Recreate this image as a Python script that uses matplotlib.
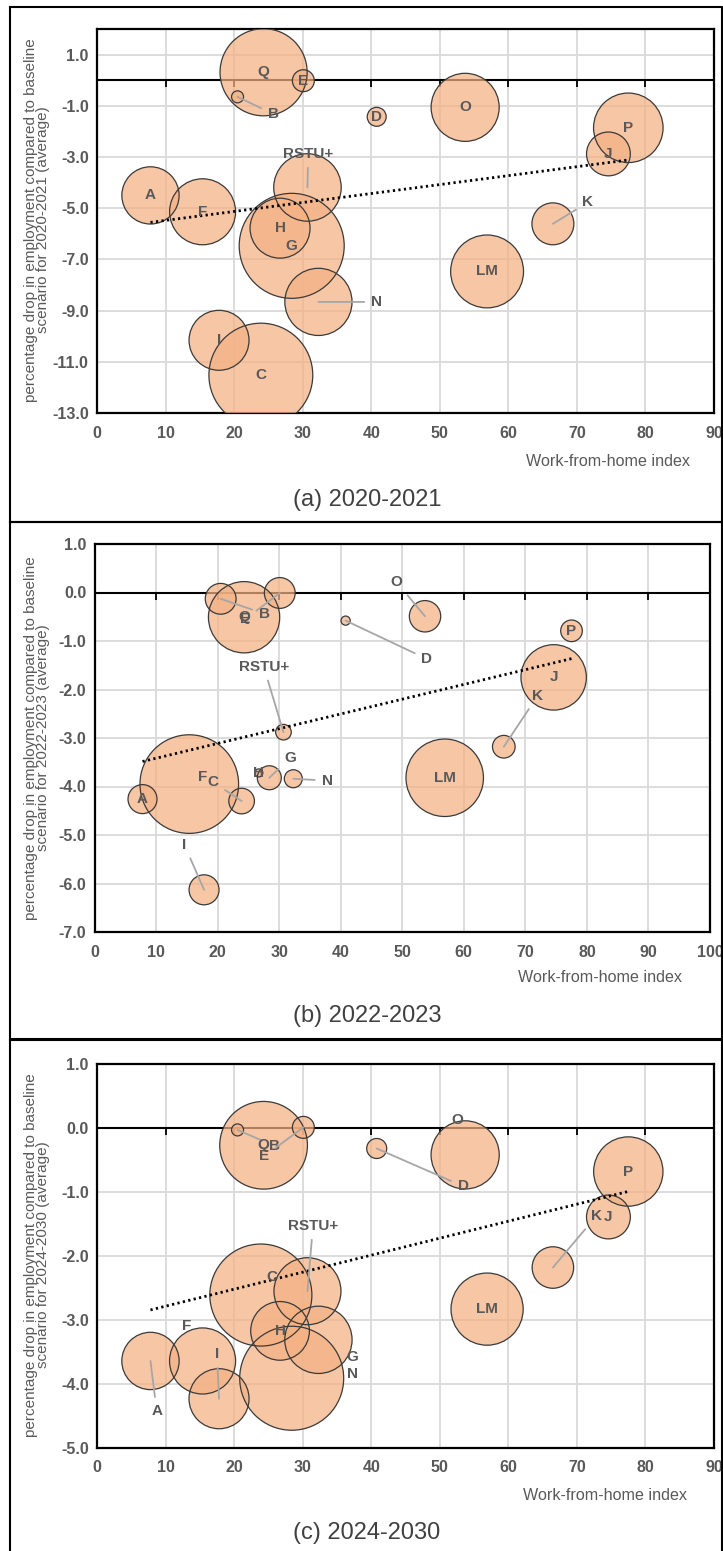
import numpy as np
import matplotlib
matplotlib.use("Agg")
import matplotlib.pyplot as plt
from matplotlib.ticker import FormatStrFormatter
from matplotlib.markers import TICKDOWN
from matplotlib.lines import Line2D

plt.rcParams['font.family'] = ['Liberation Sans', 'DejaVu Sans']
plt.rcParams['axes.unicode_minus'] = False

W, H = 723, 1551

sectors = ['A', 'B', 'C', 'D', 'E', 'F', 'G', 'H', 'I', 'J', 'K', 'LM', 'N', 'O', 'P', 'Q', 'RSTU+']
wfh_index = [7.8, 20.5, 23.9, 40.8, 30.1, 15.4, 28.4, 26.7, 17.8, 74.6, 66.5, 56.9, 32.3, 53.7, 77.5, 24.3, 30.7]

drop_2020_21 = [-4.50, -0.65, -11.52, -1.43, -0.02, -5.14, -6.47, -5.78, -10.16, -2.88, -5.61, -7.47, -8.66, -1.06, -1.86, 0.31, -4.19]
drop_2022_23 = [-4.26, -0.13, -4.30, -0.58, -0.01, -3.95, -3.82, -3.72, -6.13, -1.75, -3.18, -3.82, -3.84, -0.49, -0.79, -0.51, -2.88]
drop_2024_30 = [-3.64, -0.03, -2.61, -0.32, 0.01, -3.64, -3.91, -3.17, -4.23, -1.39, -2.18, -2.83, -3.31, -0.42, -0.68, -0.27, -2.55]

# bubble values (area)
size_2020_21 = [8.2, 0.36, 27.0, 0.9, 1.2, 10.9, 27.6, 9.0, 9.0, 4.8, 4.4, 13.3, 11.3, 11.6, 12.1, 19.0, 11.4]
size_2022_23 = [2.1, 2.37, 1.64, 0.21, 2.37, 24.3, 1.44, 0.16, 2.25, 10.7, 1.28, 15.0, 0.81, 2.46, 1.17, 12.7, 0.61]
size_2024_30 = [8.2, 0.36, 26.0, 1.0, 1.2, 10.9, 27.0, 8.6, 9.0, 4.8, 4.3, 13.0, 11.3, 11.6, 12.0, 19.2, 11.2]

periods = ['2020-2021', '2022-2023', '2024-2030']
captions = ['(a) 2020-2021', '(b) 2022-2023', '(c) 2024-2030']

# moved data labels: name -> (x, y, leader line)
labels_a = {'B': (25.7, -1.32, True), 'RSTU+': (30.8, -2.88, True),
            'K': (71.6, -4.77, True), 'N': (40.8, -8.66, True)}
labels_b = {'B': (27.6, -0.44, True), 'E': (24.5, -0.55, True), 'D': (54.0, -1.37, True),
            'O': (49.1, 0.21, True), 'K': (72.0, -2.13, True), 'RSTU+': (27.5, -1.53, True),
            'G': (31.8, -3.41, True), 'N': (37.8, -3.88, True), 'F': (17.6, -3.80, False),
            'C': (19.3, -3.91, True), 'I': (14.6, -5.2, True)}
labels_c = {'B': (25.9, -0.28, True), 'E': (24.4, -0.44, True), 'D': (53.4, -0.91, True),
            'O': (52.5, 0.12, False), 'K': (72.8, -1.38, True), 'C': (25.5, -2.33, False),
            'RSTU+': (31.5, -1.53, True), 'G': (37.3, -3.58, False), 'N': (37.3, -3.84, False),
            'F': (13.1, -3.09, False), 'I': (17.5, -3.53, True), 'A': (8.7, -4.42, True)}

panels = [
    dict(y=drop_2020_21, s=size_2020_21, lab=labels_a, xlim=(0, 90), ylim=(-13, 2),
         yt=np.arange(-13, 1.5, 2), box=(97, 29, 714, 413), rmax=52.5,
         frame=(7, 522), xl=(608, 462), cap=(367, 500), yl=220),
    dict(y=drop_2022_23, s=size_2022_23, lab=labels_b, xlim=(0, 100), ylim=(-7, 1),
         yt=np.arange(-7, 1.5, 1), box=(94.5, 544, 710, 932), rmax=49.3,
         frame=(522, 1039), xl=(600, 978), cap=(367, 1016), yl=738),
    dict(y=drop_2024_30, s=size_2024_30, lab=labels_c, xlim=(0, 90), ylim=(-5, 1),
         yt=np.arange(-5, 1.5, 1), box=(97, 1064, 714, 1448), rmax=52,
         frame=(1040, 1560), xl=(605, 1496), cap=(367, 1533), yl=1255),
]

gray_txt = '#595959'
fig = plt.figure(figsize=(W / 100, H / 100), dpi=100)

for i, p in enumerate(panels):
    x0, y0, x1, y1 = p['box']
    ax = fig.add_axes([x0 / W, 1 - y1 / H, (x1 - x0) / W, (y1 - y0) / H])
    ax.set_xlim(*p['xlim'])
    ax.set_ylim(*p['ylim'])
    ax.set_xticks(np.arange(p['xlim'][0], p['xlim'][1] + 1, 10))
    ax.set_yticks(p['yt'])
    ax.yaxis.set_major_formatter(FormatStrFormatter('%.1f'))
    ax.grid(True, color='#D9D9D9', lw=1.3, zorder=0)
    ax.set_axisbelow(True)
    ax.tick_params(length=0, labelsize=11.5, labelcolor=gray_txt, pad=9)
    ax.tick_params(axis='y', pad=6)
    for t in ax.get_xticklabels() + ax.get_yticklabels():
        t.set_fontweight('bold')
    for sp in ax.spines.values():
        sp.set_linewidth(1.6)
        sp.set_color('black')

    # horizontal axis through zero with downward tick marks
    ax.axhline(0, color='black', lw=1.5, zorder=2)
    xt = ax.get_xticks()
    ax.plot(xt, np.zeros(len(xt)), ls='none', marker=TICKDOWN, ms=5, mew=1.3,
            color='black', zorder=2, clip_on=False)

    xs = np.array(wfh_index)
    ys = np.array(p['y'])
    ss = np.array(p['s'])
    r_px = p['rmax'] * np.sqrt(ss / ss.max())
    msize = (2 * r_px * 0.72) ** 2
    order = np.argsort(-ss)
    ax.scatter(xs[order], ys[order], s=msize[order], facecolor='#F4B183', alpha=0.72,
               edgecolor='none', zorder=3)
    ax.scatter(xs[order], ys[order], s=msize[order], facecolor='none',
               edgecolor='#3A3A3A', lw=0.9, zorder=3)

    # linear trend
    k, b = np.polyfit(xs, ys, 1)
    tx = np.array([xs.min(), xs.max()])
    ax.plot(tx, k * tx + b, color='black', lw=2.0, ls=(0, (0.8, 1.2)), zorder=4)

    for name, x, y in zip(sectors, xs, ys):
        if name in p['lab']:
            lx, ly, leader = p['lab'][name]
            if leader:
                ax.annotate(name, xy=(x, y), xytext=(lx, ly), ha='center', va='center',
                            fontsize=11, fontweight='bold', color=gray_txt, zorder=6,
                            arrowprops=dict(arrowstyle='-', color='#A6A6A6', lw=1.3,
                                            shrinkA=3, shrinkB=0))
            else:
                ax.text(lx, ly, name, ha='center', va='center', fontsize=11,
                        fontweight='bold', color=gray_txt, zorder=6)
        else:
            ax.text(x, y, name, ha='center', va='center', fontsize=11,
                    fontweight='bold', color=gray_txt, zorder=6)

    fig.text(37 / W, 1 - p['yl'] / H,
             'percentage drop in employment compared to baseline\n'
             'scenario for %s (average)' % periods[i],
             rotation=90, ha='center', va='center', fontsize=11, color=gray_txt,
             linespacing=0.85)
    fig.text(p['xl'][0] / W, 1 - p['xl'][1] / H, 'Work-from-home index', ha='center',
             va='center', fontsize=11.6, color=gray_txt)
    fig.text(p['cap'][0] / W, 1 - p['cap'][1] / H, captions[i], ha='center',
             va='center', fontsize=17, color='#404040')

    # panel frame
    ft, fb = p['frame']
    fx = [10 / W, 722 / W, 722 / W, 10 / W, 10 / W]
    fy = [1 - ft / H, 1 - ft / H, 1 - fb / H, 1 - fb / H, 1 - ft / H]
    fig.add_artist(Line2D(fx, fy, color='black', lw=1.5, transform=fig.transFigure))

fig.savefig('out.png', dpi=100)
